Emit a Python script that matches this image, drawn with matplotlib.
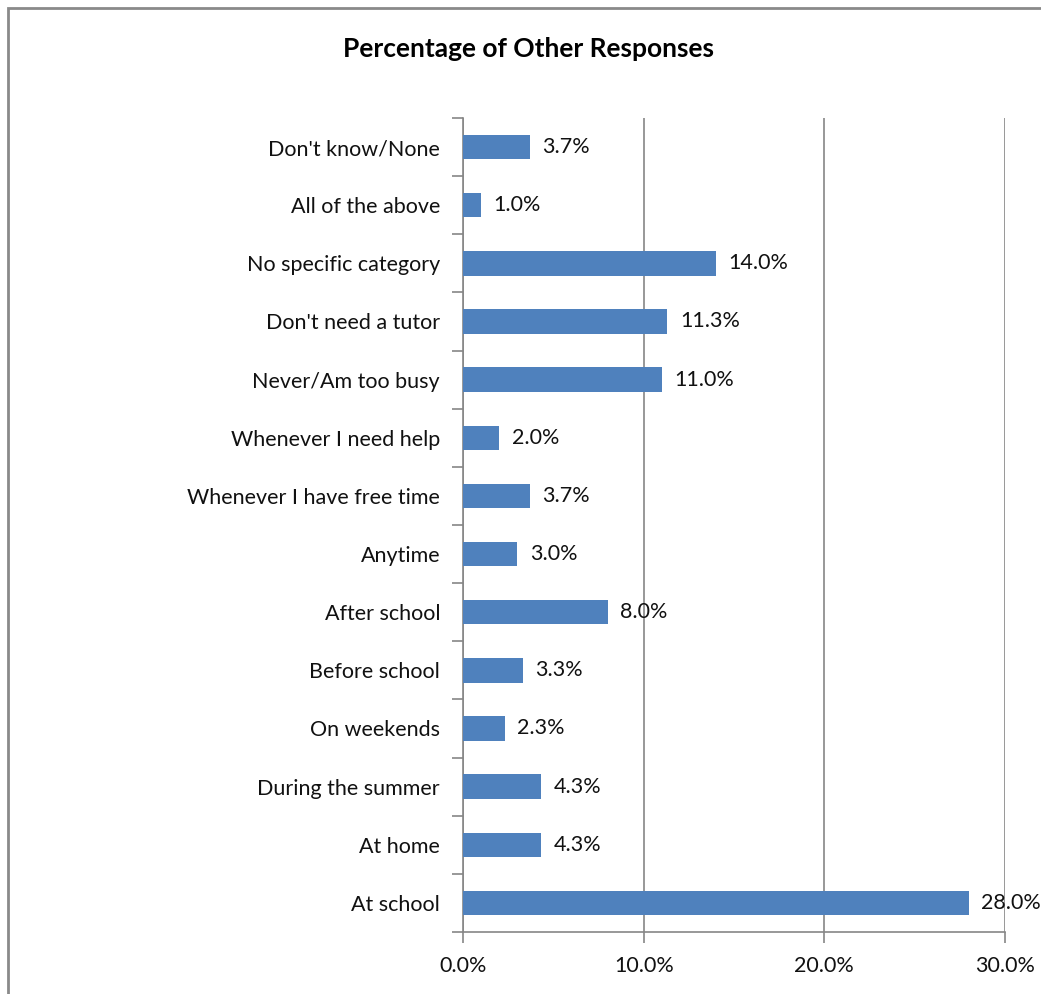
import numpy as np
import matplotlib.pyplot as plt
from matplotlib.patches import Rectangle

plt.rcParams['font.family'] = ['Lato', 'DejaVu Sans']

# categories listed bottom to top
categories = ['At school', 'At home', 'During the summer', 'On weekends',
              'Before school', 'After school', 'Anytime',
              'Whenever I have free time', 'Whenever I need help',
              'Never/Am too busy', "Don't need a tutor",
              'No specific category', 'All of the above', "Don't know/None"]
percent = [28.0, 4.3, 4.3, 2.3, 3.3, 8.0, 3.0, 3.7, 2.0, 11.0, 11.3, 14.0, 1.0, 3.7]
x_ticks = [0, 10, 20, 30]

fig = plt.figure(figsize=(10.41, 9.94), dpi=100)
ax = fig.add_axes([0.4448, 0.0624, 0.5206, 0.8189])

y = np.arange(len(categories))
ax.barh(y, percent, height=0.42, color='#4F81BD', zorder=3)
for yi, v in zip(y, percent):
    ax.text(v + 0.7, yi, f'{v:.1f}%', va='center', ha='left', fontsize=15.5,
            color='#111111', zorder=4, clip_on=False)

ax.set_xlim(0, 30)
ax.set_ylim(-0.5, len(categories) - 0.5)
ax.set_xticks(x_ticks)
ax.set_xticklabels([f'{t:.1f}%' for t in x_ticks], fontsize=15.5, color='#111111')
ax.set_yticks(y)
ax.set_yticklabels(categories, fontsize=15.5, color='#111111')
ax.set_yticks(np.arange(len(categories) + 1) - 0.5, minor=True)

ax.xaxis.grid(True, color='#868686', linewidth=1.2, zorder=0)
ax.tick_params(axis='y', which='major', length=0, pad=16.5)
ax.tick_params(axis='y', which='minor', length=8, color='#868686', width=1.2)
ax.tick_params(axis='x', length=8, color='#868686', width=1.2, pad=9)

for side in ['top', 'right']:
    ax.spines[side].set_visible(False)
for side in ['left', 'bottom']:
    ax.spines[side].set_color('#868686')
    ax.spines[side].set_linewidth(1.2)

fig.text(0.508, 0.951, 'Percentage of Other Responses', ha='center', va='center',
         fontsize=19, fontweight='bold', color='black')

# chart frame
fig.patches.append(Rectangle((8 / 1041, -0.1), 1.2, 1 - 8 / 994 + 0.1,
                             transform=fig.transFigure, fill=False,
                             edgecolor='#8a8a8a', linewidth=2))

fig.savefig('out.png', dpi=100)
